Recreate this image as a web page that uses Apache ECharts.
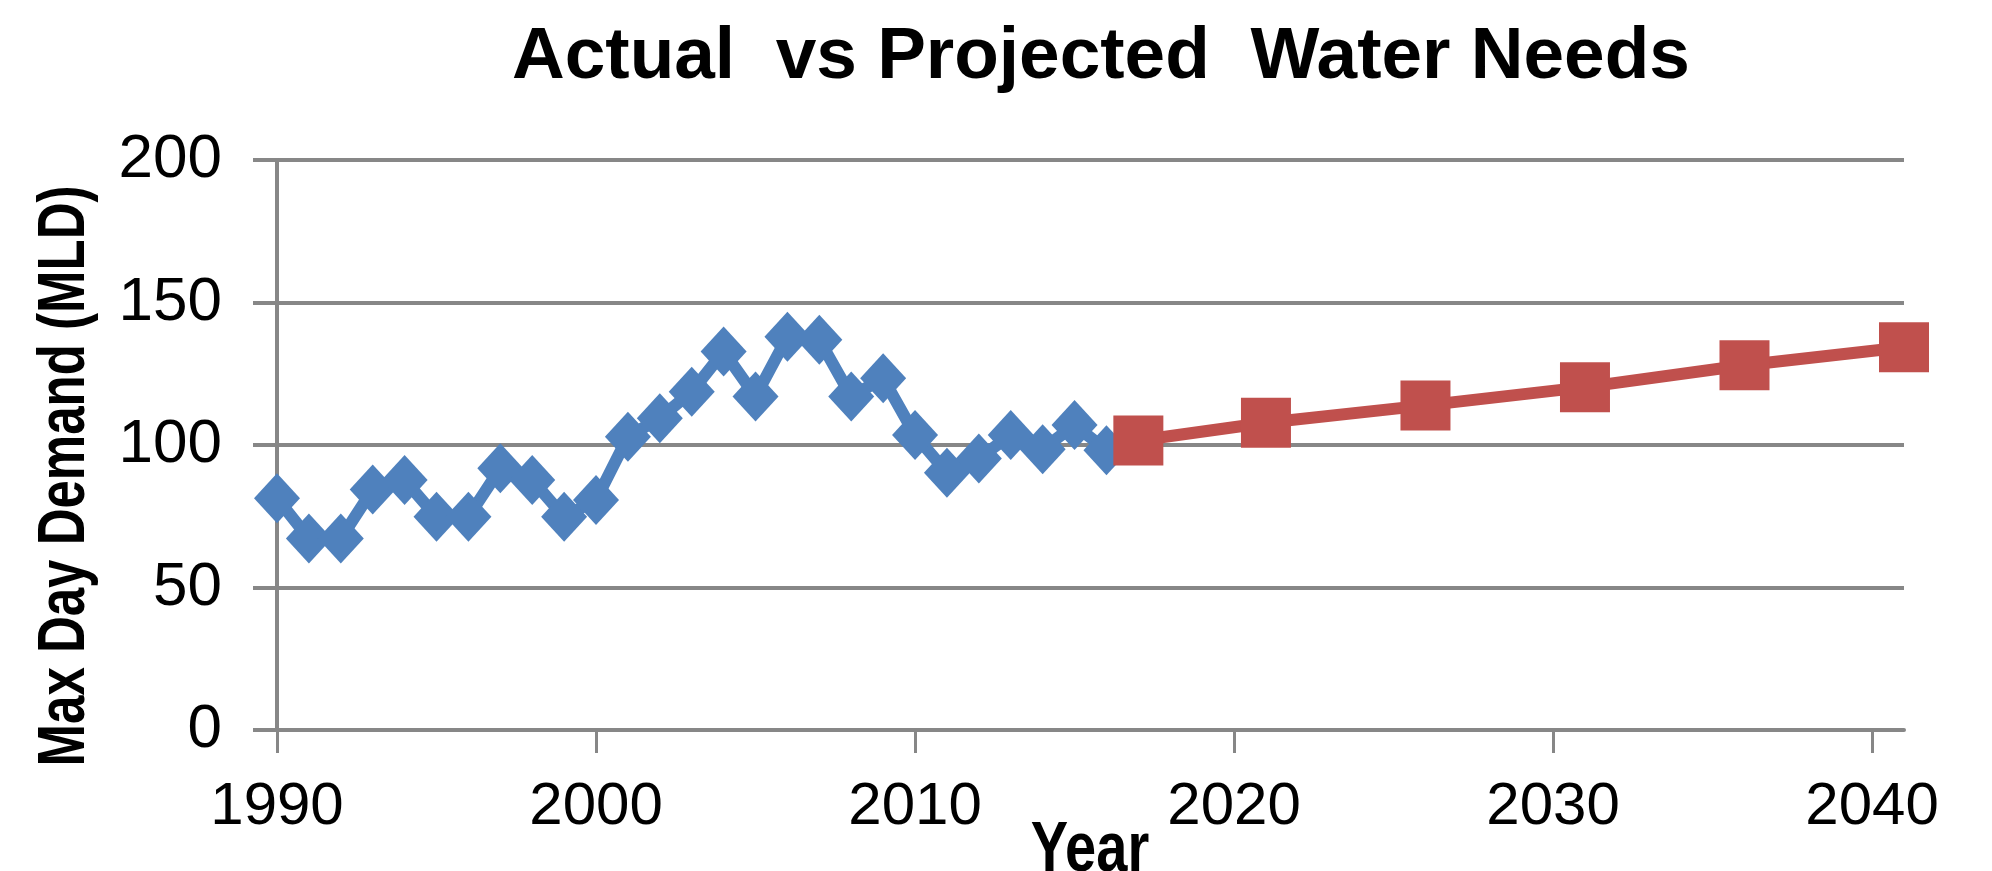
<!DOCTYPE html>
<html>
<head>
<meta charset="utf-8">
<script src="https://cdn.jsdelivr.net/npm/echarts@6/dist/echarts.min.js"></script>
<style>
html,body{margin:0;padding:0;background:#fff;}
#chart{width:1992px;height:871px;}
</style>
</head>
<body>
<div id="chart"></div>
<script>
const actualYears = [1990,1991,1992,1993,1994,1995,1996,1997,1998,1999,2000,2001,2002,2003,2004,2005,2006,2007,2008,2009,2010,2011,2012,2013,2014,2015,2016];
const actualDemand = [81.3,67.2,67.2,84.4,87.7,74.8,74.8,91.8,87.7,74.8,80.7,102.9,109.4,118.7,132.8,117.0,138.0,136.9,117.0,123.4,103.5,90.3,95.3,103.5,98.5,107.0,98.2];
const projYears = [2017,2021,2026,2031,2036,2041];
const projDemand = [101.6,107.8,113.9,120.3,128.0,134.3];
const xTickValues = [1990,2000,2010,2020,2030,2040];
const yTicks = [0,50,100,150,200];

const FONT = '"Liberation Sans", Arial, sans-serif';
const GRID_COLOR = '#878787';

const chart = echarts.init(document.getElementById('chart'));
chart.setOption({
  animation: false,
  backgroundColor: '#ffffff',
  title: {
    text: 'Actual  vs Projected  Water Needs',
    left: 507,
    top: 16,
    textStyle: { fontFamily: FONT, fontWeight: 'bold', fontSize: 73, color: '#000' }
  },
  grid: { left: 277, right: 88, top: 160, bottom: 141, containLabel: false, outerBoundsMode: 'none' },
  xAxis: {
    type: 'value',
    min: 1990,
    max: 2041,
    interval: 10,
    axisLine: { show: true, lineStyle: { color: GRID_COLOR, width: 4 } },
    axisTick: { show: true, length: 23, customValues: xTickValues, lineStyle: { color: GRID_COLOR, width: 3 } },
    axisLabel: { customValues: xTickValues, margin: 47, fontFamily: FONT, fontSize: 60, color: '#000', formatter: v => String(v) },
    splitLine: { show: false }
  },
  yAxis: {
    type: 'value',
    min: yTicks[0],
    max: yTicks[yTicks.length - 1],
    interval: 50,
    axisLine: { show: true, lineStyle: { color: GRID_COLOR, width: 4 } },
    axisTick: { show: true, length: 24, lineStyle: { color: GRID_COLOR, width: 4 } },
    axisLabel: { margin: 55, fontFamily: FONT, fontSize: 62, color: '#000' },
    splitLine: { show: true, lineStyle: { color: GRID_COLOR, width: 4 } }
  },
  graphic: [{
    type: 'text',
    x: 66,
    y: 476,
    rotation: Math.PI / 2,
    scaleY: 1.3,
    style: {
      text: 'Max Day Demand (MLD)',
      font: 'bold 51px ' + FONT,
      fill: '#000',
      align: 'center',
      verticalAlign: 'middle',
      textAlign: 'center',
      textVerticalAlign: 'middle'
    }
  }, {
    type: 'text',
    x: 1090,
    y: 852,
    scaleY: 1.25,
    style: {
      text: 'Year',
      font: 'bold 56px ' + FONT,
      fill: '#000',
      align: 'center',
      verticalAlign: 'middle',
      textAlign: 'center',
      textVerticalAlign: 'middle'
    }
  }],
  series: [
    {
      name: 'Actual',
      type: 'line',
      data: actualYears.map((y, i) => [y, actualDemand[i]]),
      symbol: 'diamond',
      symbolSize: [46, 50],
      clip: false,
      lineStyle: { color: '#4F81BD', width: 12 },
      itemStyle: { color: '#4F81BD' }
    },
    {
      name: 'Projected',
      type: 'line',
      data: projYears.map((y, i) => [y, projDemand[i]]),
      symbol: 'rect',
      symbolSize: 50,
      clip: false,
      lineStyle: { color: '#C0504D', width: 12 },
      itemStyle: { color: '#C0504D' }
    }
  ]
});
</script>
</body>
</html>
